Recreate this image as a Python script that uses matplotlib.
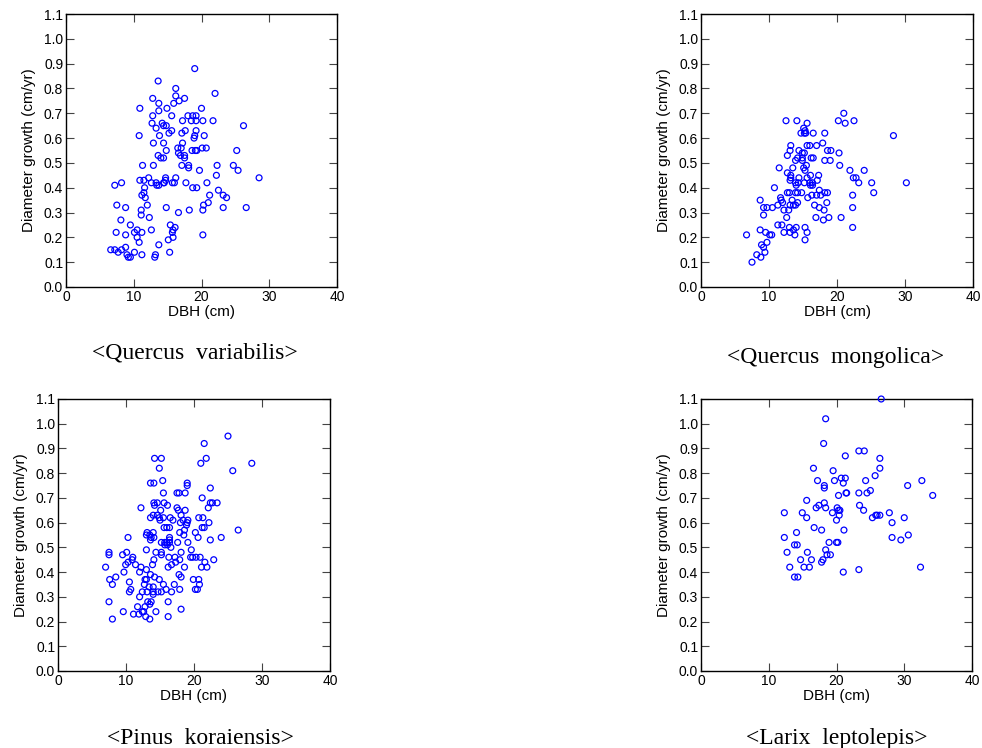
import matplotlib
matplotlib.use("Agg")
import matplotlib.pyplot as plt
import numpy as np

# <Quercus variabilis>
qv_dbh = [19.0, 13.6, 16.2, 22.0, 12.8, 16.2, 17.5, 15.9, 16.7, 10.9, 13.7, 13.7, 14.9, 20.0,
          12.8, 15.6, 18.0, 18.7, 19.2, 17.2, 18.5, 19.2, 20.2, 21.7, 12.7, 14.2, 14.4, 14.8,
          13.3, 15.6, 15.2, 17.6, 19.2, 17.1, 26.2, 10.8, 13.8, 19.0, 18.9, 20.4, 12.9, 14.4,
          17.2, 16.5, 17.0, 14.8, 18.6, 19.1, 19.3, 20.1, 20.7, 25.2, 16.6, 16.9, 17.5, 17.5,
          13.6, 14.0, 14.4, 11.3, 12.9, 17.1, 18.1, 18.1, 22.3, 24.7, 25.4, 19.7, 22.2, 28.5,
          12.2, 10.9, 11.5, 12.6, 13.4, 13.7, 13.3, 14.4, 14.7, 14.7, 14.5, 15.7, 16.0, 16.2,
          17.7, 18.7, 19.3, 20.8, 8.2, 7.2, 11.6, 22.5, 11.5, 11.2, 11.7, 21.2, 23.2, 23.7,
          21.0, 20.3, 7.5, 8.8, 12.0, 14.8, 11.1, 18.2, 20.2, 23.2, 26.6, 11.1, 16.6, 12.3,
          8.1, 15.4, 9.5, 16.1, 15.8, 10.5, 12.6, 7.4, 10.1, 11.2, 15.7, 8.8, 20.2, 10.5,
          15.8, 15.1, 10.8, 13.7, 8.8, 6.6, 7.2, 8.2, 7.7, 9.0, 9.2, 9.5, 10.1, 11.2, 13.2,
          13.1, 15.3]
qv_growth = [0.88, 0.83, 0.80, 0.78, 0.76, 0.77, 0.76, 0.74, 0.75, 0.72, 0.74, 0.71, 0.72, 0.72,
             0.69, 0.69, 0.69, 0.69, 0.69, 0.67, 0.67, 0.67, 0.67, 0.67, 0.66, 0.66, 0.65, 0.65,
             0.64, 0.63, 0.62, 0.63, 0.63, 0.62, 0.65, 0.61, 0.61, 0.61, 0.60, 0.61, 0.58, 0.58,
             0.58, 0.56, 0.56, 0.55, 0.55, 0.55, 0.55, 0.56, 0.56, 0.55, 0.54, 0.53, 0.53, 0.52,
             0.53, 0.52, 0.52, 0.49, 0.49, 0.49, 0.49, 0.48, 0.49, 0.49, 0.47, 0.47, 0.45, 0.44,
             0.44, 0.43, 0.43, 0.42, 0.41, 0.41, 0.42, 0.42, 0.43, 0.44, 0.42, 0.42, 0.42, 0.44,
             0.42, 0.40, 0.40, 0.42, 0.42, 0.41, 0.40, 0.39, 0.38, 0.37, 0.36, 0.37, 0.37, 0.36,
             0.34, 0.33, 0.33, 0.32, 0.33, 0.32, 0.31, 0.31, 0.31, 0.32, 0.32, 0.29, 0.30, 0.28,
             0.27, 0.25, 0.25, 0.24, 0.23, 0.23, 0.23, 0.22, 0.22, 0.22, 0.22, 0.21, 0.21, 0.20,
             0.20, 0.19, 0.18, 0.17, 0.16, 0.15, 0.15, 0.15, 0.14, 0.13, 0.12, 0.12, 0.14, 0.13, 0.13,
             0.12, 0.14]

# <Quercus mongolica>
qm_dbh = [21.0, 20.2, 21.2, 22.5, 12.5, 14.1, 15.6, 15.1, 15.3, 14.7, 15.2, 15.4, 16.5, 18.2,
          28.3, 17.9, 13.2, 15.6, 16.0, 17.0, 13.1, 14.4, 18.6, 19.1, 14.9, 15.2, 20.3, 12.7,
          14.2, 14.9, 16.2, 16.5, 13.9, 14.9, 18.2, 19.0, 15.5, 20.4, 11.5, 13.5, 15.1, 15.3,
          21.9, 24.0, 12.7, 13.2, 16.1, 17.3, 13.2, 14.4, 22.4, 22.8, 13.1, 15.6, 17.1, 13.9,
          14.3, 15.2, 16.0, 16.4, 23.2, 25.1, 30.2, 14.0, 16.1, 16.4, 10.8, 17.4, 12.7, 13.0,
          13.9, 14.2, 14.8, 18.2, 18.6, 25.4, 16.3, 17.0, 17.6, 22.3, 15.7, 11.7, 11.8, 13.4,
          8.7, 12.0, 14.2, 18.5, 11.3, 13.1, 13.6, 13.9, 16.7, 9.2, 9.7, 10.5, 17.4, 22.3,
          12.2, 12.9, 18.1, 9.2, 12.6, 16.9, 18.8, 20.6, 18.0, 11.3, 11.9, 13.0, 14.0, 15.3,
          22.3, 13.6, 8.7, 9.5, 12.2, 13.1, 15.6, 6.7, 10.1, 10.4, 13.8, 15.3, 9.7, 8.9,
          9.2, 9.4, 8.2, 8.8, 7.5]
qm_growth = [0.70, 0.67, 0.66, 0.67, 0.67, 0.67, 0.66, 0.64, 0.63, 0.62, 0.62, 0.62, 0.62, 0.62,
             0.61, 0.58, 0.57, 0.57, 0.57, 0.57, 0.55, 0.55, 0.55, 0.55, 0.54, 0.54, 0.54, 0.53,
             0.52, 0.52, 0.52, 0.52, 0.51, 0.51, 0.51, 0.51, 0.49, 0.49, 0.48, 0.48, 0.48, 0.47,
             0.47, 0.47, 0.46, 0.45, 0.45, 0.45, 0.44, 0.44, 0.44, 0.44, 0.43, 0.44, 0.43, 0.42,
             0.42, 0.42, 0.42, 0.42, 0.42, 0.42, 0.42, 0.41, 0.41, 0.41, 0.40, 0.39, 0.38, 0.38,
             0.38, 0.38, 0.38, 0.38, 0.38, 0.38, 0.37, 0.37, 0.37, 0.37, 0.36, 0.36, 0.35, 0.35,
             0.35, 0.34, 0.34, 0.34, 0.33, 0.33, 0.33, 0.33, 0.33, 0.32, 0.32, 0.32, 0.32, 0.32,
             0.31, 0.31, 0.31, 0.29, 0.28, 0.28, 0.28, 0.28, 0.27, 0.25, 0.25, 0.24, 0.24, 0.24,
             0.24, 0.23, 0.23, 0.22, 0.22, 0.22, 0.22, 0.21, 0.21, 0.21, 0.21, 0.19, 0.18, 0.17,
             0.16, 0.14, 0.13, 0.12, 0.10]

# <Pinus koraiensis>
pk_dbh = [25.0, 21.5, 21.8, 21.0, 28.5, 14.2, 15.2, 14.9, 25.7, 15.4, 13.6, 14.1, 19.0, 19.0,
          22.4, 15.5, 17.5, 17.8, 18.7, 21.2, 14.1, 14.6, 15.6, 22.4, 22.7, 23.4, 14.2, 16.1,
          12.2, 17.5, 22.1, 15.1, 17.7, 18.7, 14.0, 14.6, 18.1, 13.6, 14.9, 15.5, 16.5, 20.7,
          21.3, 16.9, 18.4, 19.1, 15.0, 18.0, 19.0, 22.2, 18.9, 15.6, 16.0, 16.4, 21.2, 21.5,
          18.6, 26.5, 13.1, 14.0, 17.9, 20.2, 13.0, 13.5, 18.5, 10.3, 13.7, 14.1, 16.4, 20.6,
          24.0, 13.6, 16.4, 22.4, 15.2, 15.7, 16.0, 16.4, 17.6, 19.1, 15.7, 16.1, 16.6, 13.0,
          19.6, 7.5, 7.5, 10.1, 14.4, 15.2, 18.1, 9.5, 15.2, 19.5, 19.8, 20.3, 20.9, 11.0,
          16.3, 17.2, 10.9, 14.1, 17.9, 22.9, 10.3, 17.3, 21.6, 9.95, 11.4, 13.9, 16.7, 7.0,
          12.2, 16.2, 18.6, 21.1, 21.9, 13.0, 12.0, 9.7, 13.6, 17.8, 8.5, 14.2, 18.1, 7.6,
          12.8, 13.0, 14.9, 19.9, 20.7, 10.5, 8.0, 12.7, 15.5, 17.1, 20.8, 10.7, 13.4, 14.0,
          15.9, 17.9, 20.2, 20.5, 10.5, 12.4, 13.1, 14.0, 14.7, 15.2, 16.7, 14.0, 12.0, 7.5,
          13.2, 13.7, 16.2, 13.5, 11.7, 12.8, 18.1, 12.4, 9.6, 14.4, 11.1, 11.9, 12.6, 12.9,
          16.2, 8.0, 13.5]
pk_growth = [0.95, 0.92, 0.86, 0.84, 0.84, 0.86, 0.86, 0.82, 0.81, 0.77, 0.76, 0.76, 0.76, 0.75,
             0.74, 0.72, 0.72, 0.72, 0.72, 0.70, 0.68, 0.68, 0.68, 0.68, 0.68, 0.68, 0.67, 0.67,
             0.66, 0.66, 0.66, 0.65, 0.65, 0.65, 0.63, 0.63, 0.63, 0.62, 0.62, 0.62, 0.62, 0.62,
             0.62, 0.61, 0.61, 0.61, 0.61, 0.60, 0.60, 0.60, 0.59, 0.58, 0.58, 0.58, 0.58, 0.58,
             0.57, 0.57, 0.56, 0.56, 0.56, 0.56, 0.55, 0.55, 0.55, 0.54, 0.54, 0.54, 0.54, 0.54,
             0.54, 0.53, 0.53, 0.53, 0.52, 0.52, 0.52, 0.52, 0.52, 0.52, 0.51, 0.51, 0.50, 0.49,
             0.49, 0.48, 0.47, 0.48, 0.48, 0.48, 0.48, 0.47, 0.47, 0.46, 0.46, 0.46, 0.46, 0.46,
             0.46, 0.46, 0.45, 0.45, 0.45, 0.45, 0.44, 0.44, 0.44, 0.43, 0.43, 0.43, 0.43, 0.42,
             0.42, 0.42, 0.42, 0.42, 0.42, 0.41, 0.40, 0.40, 0.39, 0.39, 0.38, 0.38, 0.38, 0.37,
             0.37, 0.37, 0.37, 0.37, 0.37, 0.36, 0.35, 0.35, 0.35, 0.35, 0.35, 0.33, 0.34, 0.34,
             0.33, 0.33, 0.33, 0.33, 0.32, 0.32, 0.32, 0.32, 0.32, 0.32, 0.32, 0.31, 0.30, 0.28,
             0.28, 0.28, 0.28, 0.27, 0.26, 0.26, 0.25, 0.24, 0.24, 0.24, 0.23, 0.23, 0.24, 0.22,
             0.22, 0.21, 0.21]

# <Larix leptolepis>
ll_dbh = [26.6, 18.4, 18.1, 23.3, 24.1, 21.3, 26.4, 16.6, 26.4, 19.5, 25.7, 20.7, 21.3, 17.2,
          19.7, 24.3, 32.6, 21.0, 18.2, 30.5, 18.2, 25.0, 21.4, 21.5, 23.3, 24.5, 20.3, 34.2,
          15.6, 23.4, 17.4, 18.2, 17.0, 18.4, 20.1, 24.0, 20.5, 20.3, 12.3, 14.95, 19.4, 27.8,
          20.4, 26.0, 26.4, 25.8, 15.6, 25.3, 30.0, 20.0, 28.2, 16.7, 17.8, 21.1, 14.1, 12.3,
          28.2, 30.6, 29.5, 13.8, 14.2, 18.9, 20.0, 20.2, 12.7, 15.7, 18.4, 18.6, 19.1, 14.7,
          16.3, 18.0, 17.8, 13.1, 15.2, 16.0, 32.4, 21.0, 23.3, 13.8, 14.3]
ll_growth = [1.10, 1.02, 0.92, 0.89, 0.89, 0.87, 0.86, 0.82, 0.82, 0.81, 0.79, 0.78, 0.78, 0.77,
             0.77, 0.77, 0.77, 0.76, 0.75, 0.75, 0.74, 0.73, 0.72, 0.72, 0.72, 0.72, 0.71, 0.71,
             0.69, 0.67, 0.67, 0.68, 0.66, 0.66, 0.66, 0.65, 0.65, 0.65, 0.64, 0.64, 0.64, 0.64,
             0.63, 0.63, 0.63, 0.63, 0.62, 0.62, 0.62, 0.61, 0.60, 0.58, 0.57, 0.57, 0.56, 0.54,
             0.54, 0.55, 0.53, 0.51, 0.51, 0.52, 0.52, 0.52, 0.48, 0.48, 0.49, 0.47, 0.47, 0.45,
             0.45, 0.45, 0.44, 0.42, 0.42, 0.42, 0.42, 0.40, 0.41, 0.38, 0.38]

species = ["<Quercus  variabilis>", "<Quercus  mongolica>",
           "<Pinus  koraiensis>", "<Larix  leptolepis>"]
datasets = [(qv_dbh, qv_growth), (qm_dbh, qm_growth), (pk_dbh, pk_growth), (ll_dbh, ll_growth)]

W, H = 982, 748
# axes boxes in pixels: left, top, right, bottom
boxes = [(66, 14, 337, 287), (701, 14, 973, 287),
         (58, 399, 330, 671), (701, 399, 972, 671)]
# caption centre x and baseline y, in pixels
captions_xy = [(195, 359), (836, 363), (200, 744), (837, 744)]

plt.rcParams['font.family'] = ['Liberation Sans', 'DejaVu Sans']
fig = plt.figure(figsize=(W / 100, H / 100), dpi=100)

yt = np.round(np.arange(0, 1.11, 0.1), 1)
for (x, y), name, (l, t, r, b), (cx, cy) in zip(datasets, species, boxes, captions_xy):
    ax = fig.add_axes([l / W, 1 - b / H, (r - l) / W, (b - t) / H])
    ax.scatter(x, y, s=18, facecolors='none', edgecolors='#0000ff', linewidths=0.9,
               clip_on=False, zorder=3)
    ax.set_xlim(0, 40)
    ax.set_ylim(0, 1.1)
    ax.set_xticks([0, 10, 20, 30, 40])
    ax.set_yticks(yt)
    ax.set_yticklabels(["%.1f" % v for v in yt])
    ax.tick_params(direction='in', top=True, right=True, length=6, width=0.8,
                   color='#444444', labelsize=10, pad=2)
    for s in ax.spines.values():
        s.set_linewidth(1.0)
    ax.set_xlabel("DBH (cm)", fontsize=11, labelpad=1)
    ax.set_ylabel("Diameter growth (cm/yr)", fontsize=11, labelpad=6)
    fig.text(cx / W, 1 - cy / H, name, ha='center', va='baseline',
             fontsize=17, family=['Liberation Serif', 'DejaVu Serif'])

fig.savefig("out.png", dpi=100)
